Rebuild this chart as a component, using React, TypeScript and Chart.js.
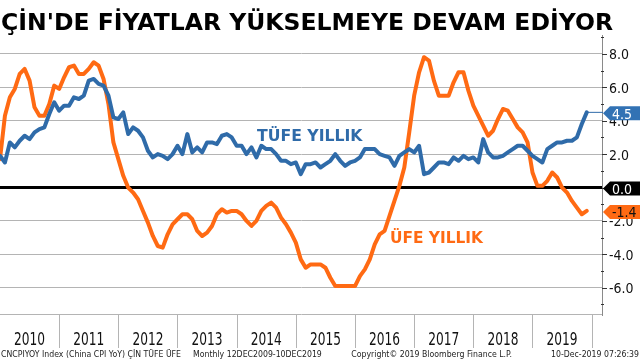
import React, { useEffect, useRef } from "react";
import { Chart, registerables } from "chart.js";
Chart.register(...registerables);

const TITLE = "ÇİN'DE FİYATLAR YÜKSELMEYE DEVAM EDİYOR";
const YEARS = ["2010", "2011", "2012", "2013", "2014", "2015", "2016", "2017", "2018", "2019"];
const Y_TICKS = [-6, -4, -2, 0, 2, 4, 6, 8];
const CPI_LABEL = "TÜFE YILLIK";
const PPI_LABEL = "ÜFE YILLIK";
const FOOTER_LEFT = "CNCPIYOY Index (China CPI YoY) ÇİN TÜFE ÜFE";
const FOOTER_MID = "Monthly 12DEC2009-10DEC2019";
const FOOTER_COPY = "Copyright© 2019 Bloomberg Finance L.P.";
const FOOTER_DATE = "10-Dec-2019 07:26:39";

// Monthly, Dec 2009 .. Nov 2019
const CPI = [
  1.9,
  1.5, 2.7, 2.4, 2.8, 3.1, 2.9, 3.3, 3.5, 3.6, 4.4, 5.1, 4.6,
  4.9, 4.9, 5.4, 5.3, 5.5, 6.4, 6.5, 6.2, 6.1, 5.5, 4.2, 4.1,
  4.5, 3.2, 3.6, 3.4, 3.0, 2.2, 1.8, 2.0, 1.9, 1.7, 2.0, 2.5,
  2.0, 3.2, 2.1, 2.4, 2.1, 2.7, 2.7, 2.6, 3.1, 3.2, 3.0, 2.5,
  2.5, 2.0, 2.4, 1.8, 2.5, 2.3, 2.3, 2.0, 1.6, 1.6, 1.4, 1.5,
  0.8, 1.4, 1.4, 1.5, 1.2, 1.4, 1.6, 2.0, 1.6, 1.3, 1.5, 1.6,
  1.8, 2.3, 2.3, 2.3, 2.0, 1.9, 1.8, 1.3, 1.9, 2.1, 2.3, 2.1,
  2.5, 0.8, 0.9, 1.2, 1.5, 1.5, 1.4, 1.8, 1.6, 1.9, 1.7, 1.8,
  1.5, 2.9, 2.1, 1.8, 1.8, 1.9, 2.1, 2.3, 2.5, 2.5, 2.2, 1.9,
  1.7, 1.5, 2.3, 2.5, 2.7, 2.7, 2.8, 2.8, 3.0, 3.8, 4.5,
];
const PPI = [
  1.7,
  4.3, 5.4, 5.9, 6.8, 7.1, 6.4, 4.8, 4.3, 4.3, 5.0, 6.1, 5.9,
  6.6, 7.2, 7.3, 6.8, 6.8, 7.1, 7.5, 7.3, 6.5, 5.0, 2.7, 1.7,
  0.7, 0.0, -0.3, -0.7, -1.4, -2.1, -2.9, -3.5, -3.6, -2.8, -2.2, -1.9,
  -1.6, -1.6, -1.9, -2.6, -2.9, -2.7, -2.3, -1.6, -1.3, -1.5, -1.4, -1.4,
  -1.6, -2.0, -2.3, -2.0, -1.4, -1.1, -0.9, -1.2, -1.8, -2.2, -2.7, -3.3,
  -4.3, -4.8, -4.6, -4.6, -4.6, -4.8, -5.4, -5.9, -5.9, -5.9, -5.9, -5.9,
  -5.3, -4.9, -4.3, -3.4, -2.8, -2.6, -1.7, -0.8, 0.1, 1.2, 3.3, 5.5,
  6.9, 7.8, 7.6, 6.4, 5.5, 5.5, 5.5, 6.3, 6.9, 6.9, 5.8, 4.9,
  4.3, 3.7, 3.1, 3.4, 4.1, 4.7, 4.6, 4.1, 3.6, 3.3, 2.7, 0.9,
  0.1, 0.1, 0.4, 0.9, 0.6, 0.0, -0.3, -0.8, -1.2, -1.6, -1.4,
];

const BLUE = "#2f6ba9";
const ORANGE = "#ff6a13";
const GRID = "#b4b4b4";
const FONT = "'DejaVu Sans', Verdana, sans-serif";

function drawText(
  ctx: CanvasRenderingContext2D,
  s: string,
  x: number,
  y: number,
  font: string,
  color: string,
  sx: number,
  align: "left" | "center" | "right" = "left"
) {
  ctx.save();
  ctx.font = font;
  ctx.fillStyle = color;
  ctx.textBaseline = "alphabetic";
  ctx.textAlign = "left";
  const w = ctx.measureText(s).width * sx;
  const left = align === "left" ? x : align === "center" ? x - w / 2 : x - w;
  ctx.translate(left, y);
  ctx.scale(sx, 1);
  ctx.fillText(s, 0, 0);
  ctx.restore();
}

function fitScale(ctx: CanvasRenderingContext2D, s: string, font: string, target: number) {
  ctx.save();
  ctx.font = font;
  const w = ctx.measureText(s).width;
  ctx.restore();
  return target / w;
}

const overlay = {
  id: "overlay",
  afterDraw(chart: any) {
    const { ctx, chartArea: a, scales } = chart;
    const xs = scales.x;
    const ys = scales.y;
    ctx.save();

    // plot bottom border
    ctx.strokeStyle = GRID;
    ctx.lineWidth = 1;
    ctx.beginPath();
    ctx.moveTo(a.left, a.bottom + 0.5);
    ctx.lineTo(a.right, a.bottom + 0.5);
    ctx.stroke();

    // right axis line
    ctx.strokeStyle = "#8a8a8a";
    ctx.beginPath();
    ctx.moveTo(a.right - 0.5, a.top);
    ctx.lineTo(a.right - 0.5, a.bottom + 2);
    ctx.stroke();

    // tick marks (major every 2, minor every 1)
    ctx.strokeStyle = "#333";
    for (let v = -7; v <= 9; v++) {
      const py = Math.round(ys.getPixelForValue(v)) + 0.5;
      if (py < a.top - 1 || py > a.bottom) continue;
      ctx.beginPath();
      if (v % 2 === 0) {
        ctx.moveTo(a.right - 1, py);
        ctx.lineTo(a.right + 4, py);
      } else {
        ctx.moveTo(a.right - 2, py);
        ctx.lineTo(a.right + 1, py);
      }
      ctx.stroke();
    }

    // tick labels
    const tickFont = `14.5px ${FONT}`;
    const tsx = fitScale(ctx, "8.0", tickFont, 20);
    Y_TICKS.forEach((v) => {
      const py = ys.getPixelForValue(v);
      drawText(ctx, v.toFixed(1), a.right + 6, py + 5.5, tickFont, "#111", tsx);
    });

    // year separators + labels
    const yearFont = `17px ${FONT}`;
    const ysx = fitScale(ctx, "2010", yearFont, 31);
    ctx.strokeStyle = GRID;
    YEARS.forEach((yr, k) => {
      const x0 = xs.getPixelForValue(12 * k);
      const x1 = xs.getPixelForValue(12 * (k + 1));
      ctx.beginPath();
      ctx.moveTo(Math.round(x1) + 0.5, a.bottom);
      ctx.lineTo(Math.round(x1) + 0.5, a.bottom + 34);
      ctx.stroke();
      drawText(ctx, yr, (x0 + x1) / 2, a.bottom + 31, yearFont, "#111", ysx, "center");
    });

    // series labels
    const serFont = `bold 16px ${FONT}`;
    drawText(ctx, CPI_LABEL, 257, 141, serFont, BLUE, 0.98);
    drawText(ctx, PPI_LABEL, 390, 243, serFont, ORANGE, 0.96);

    // connectors and value boxes
    const lastI = CPI.length - 1;
    const lastCpi = CPI[lastI];
    const lastPpi = PPI[lastI];
    const lx = xs.getPixelForValue(lastI);
    ctx.strokeStyle = BLUE;
    ctx.lineWidth = 1;
    ctx.beginPath();
    ctx.moveTo(lx, ys.getPixelForValue(lastCpi));
    ctx.lineTo(a.right, ys.getPixelForValue(lastCpi));
    ctx.stroke();

    const boxFont = `14.5px ${FONT}`;
    const box = (v: number, fill: string, color: string) => {
      const cy = ys.getPixelForValue(v) + 1;
      const h = 7;
      ctx.fillStyle = fill;
      ctx.beginPath();
      ctx.moveTo(a.right, cy);
      ctx.lineTo(a.right + 7, cy - h);
      ctx.lineTo(chart.width, cy - h);
      ctx.lineTo(chart.width, cy + h);
      ctx.lineTo(a.right + 7, cy + h);
      ctx.closePath();
      ctx.fill();
      drawText(ctx, v.toFixed(1), a.right + 9, cy + 5.5, boxFont, color, tsx);
    };
    box(lastCpi, "#3272b4", "#fff");
    box(0, "#000", "#fff");
    box(lastPpi, ORANGE, "#111");

    // title
    const titleFont = `bold 23px ${FONT}`;
    drawText(ctx, TITLE, 1, 30, titleFont, "#000", fitScale(ctx, TITLE, titleFont, 612));

    // footer
    const footFont = `9px ${FONT}`;
    const fsx = fitScale(ctx, FOOTER_LEFT, footFont, 180);
    drawText(ctx, FOOTER_LEFT, 1, 357, footFont, "#222", fsx);
    drawText(ctx, FOOTER_MID, 193, 357, footFont, "#222", fsx);
    drawText(ctx, FOOTER_COPY, 512, 357, footFont, "#222", fsx, "right");
    drawText(ctx, FOOTER_DATE, 639, 357, footFont, "#222", fsx, "right");

    ctx.restore();
  },
};

export default function App() {
  const ref = useRef<HTMLCanvasElement>(null);
  useEffect(() => {
    if (!ref.current) return;
    const cpiData = CPI.map((v, i) => ({ x: i, y: v }));
    const ppiData = PPI.map((v, i) => ({ x: i, y: v }));
    const chart = new Chart(ref.current, {
      type: "line",
      data: {
        datasets: [
          {
            label: CPI_LABEL,
            data: cpiData,
            borderColor: BLUE,
            borderWidth: 4,
            pointRadius: 0,
            tension: 0,
            borderJoinStyle: "round",
            borderCapStyle: "round",
          },
          {
            label: PPI_LABEL,
            data: ppiData,
            borderColor: ORANGE,
            borderWidth: 4,
            pointRadius: 0,
            tension: 0,
            borderJoinStyle: "round",
            borderCapStyle: "round",
          },
        ],
      },
      options: {
        animation: false,
        responsive: false,
        devicePixelRatio: 1,
        layout: { padding: { top: 35, bottom: 46, left: 0, right: 0 } },
        plugins: {
          legend: { display: false },
          tooltip: { enabled: false },
          title: { display: false },
        },
        scales: {
          x: { type: "linear", display: false, min: 0, max: 122.3 },
          y: {
            position: "right",
            min: -7.57,
            max: 9.13,
            afterBuildTicks: (s: any) => {
              s.ticks = Y_TICKS.map((v) => ({ value: v }));
            },
            afterFit: (s: any) => {
              s.width = 37;
            },
            ticks: { display: false },
            border: { display: false },
            grid: {
              drawTicks: false,
              color: (c: any) => (c.tick && c.tick.value === 0 ? "#000" : GRID),
              lineWidth: (c: any) => (c.tick && c.tick.value === 0 ? 3 : 1),
            },
          },
        },
      },
      plugins: [overlay],
    });
    return () => chart.destroy();
  }, []);
  return (
    <div style={{ position: "fixed", left: 0, top: 0, width: 640, height: 360, background: "#fff" }}>
      <canvas ref={ref} width={640} height={360} style={{ display: "block" }} />
    </div>
  );
}
